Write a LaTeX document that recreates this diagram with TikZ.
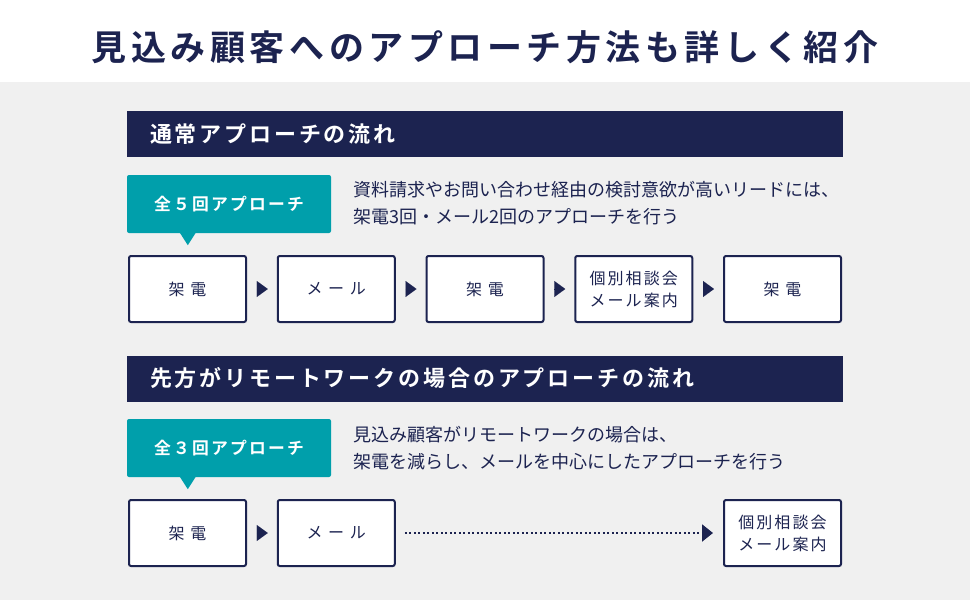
\documentclass[tikz,border=0pt]{standalone}
\usepackage{fontspec}
\setmainfont{Noto Sans CJK JP}[BoldFont={* Bold}]
\newfontfamily\jpspaced{Noto Sans CJK JP}[BoldFont={* Bold},LetterSpace=13]
\usepackage{tikz}
\usetikzlibrary{positioning,arrows.meta,calc}
\definecolor{Navy}{HTML}{1C2350}
\definecolor{Teal}{HTML}{009FAB}
\definecolor{Panel}{HTML}{F0F0F0}
\tikzset{
    titletext/.style={
        text=Navy,
        font=\jpspaced\bfseries\fontsize{35}{40}\selectfont
    },
    headbar/.style={
        rectangle,
        fill=Navy,
        text=white,
        inner xsep=23pt,
        inner ysep=0pt,
        text width=670pt,
        minimum height=46pt,
        align=left,
        font=\jpspaced\bfseries\fontsize{22}{26}\selectfont
    },
    badge/.style={
        rectangle,
        fill=Teal,
        text=white,
        rounded corners=2pt,
        minimum width=204pt,
        minimum height=58pt,
        align=center,
        font=\jpspaced\bfseries\fontsize{16.8}{20}\selectfont
    },
    desctext/.style={
        text=Navy,
        align=left,
        inner sep=0pt,
        font=\fontsize{18}{27}\selectfont
    },
    stepbox/.style={
        rectangle,
        draw=Navy,
        fill=white,
        line width=2pt,
        rounded corners=2pt,
        minimum width=117pt,
        minimum height=66pt,
        align=center,
        text=Navy,
        font=\jpspaced\fontsize{16}{22}\selectfont
    },
    steparrow/.style={
        -{Triangle[length=11pt,width=16pt]},
        draw=Navy,
        fill=Navy,
        line width=0.1pt,
        shorten <=10pt,
        shorten >=9pt
    },
    skiparrow/.style={
        -{Triangle[length=11pt,width=17pt]},
        draw=Navy,
        line width=2pt,
        dash pattern=on 2pt off 2.5pt,
        shorten <=9pt,
        shorten >=10pt
    }
}
\begin{document}
\begin{tikzpicture}[
                    x=1pt, y=-1pt,
                    node distance=29.75pt
                ]
                    \useasboundingbox (0,0) rectangle (970,600);
                    \fill[white] (0,0) rectangle (970,82);
                    \fill[Panel] (0,82) rectangle (970,600);

                    \node[titletext] (title) at (485,47) {見込み顧客へのアプローチ方法も詳しく紹介};

                    % normal approach
                    \node[headbar] (headA) at (485,134) {通常アプローチの流れ};
                    \node[badge] (badgeA) at (229,204) {全５回アプローチ};
                    \coordinate (tailA) at ($(badgeA.south west)+(61,12)$);
                    \fill[Teal] (tailA) -- ++(-8,-12.5) -- ++(16,0) -- cycle;
                    \node[desctext, anchor=west] (descA) at (353,203.5) {
                        資料請求やお問い合わせ経由の検討意欲が高いリードには、\\
                        架電3回・メール2回のアプローチを行う
                    };

                    \node[stepbox] (rowAa) at (187.5,289) {架 電};
                    \node[stepbox, right=of rowAa] (rowAb) {メ ー ル};
                    \node[stepbox, right=of rowAb] (rowAc) {架 電};
                    \node[stepbox, right=of rowAc] (rowAd) {個別相談会\\メール案内};
                    \node[stepbox, right=of rowAd] (rowAe) {架 電};

                    \draw[steparrow] (rowAa) -- (rowAb);
                    \draw[steparrow] (rowAb) -- (rowAc);
                    \draw[steparrow] (rowAc) -- (rowAd);
                    \draw[steparrow] (rowAd) -- (rowAe);

                    % remote work approach
                    \node[headbar] (headB) at (485,378.5) {先方がリモートワークの場合のアプローチの流れ};
                    \node[badge] (badgeB) at (229,448) {全３回アプローチ};
                    \coordinate (tailB) at ($(badgeB.south west)+(61,12)$);
                    \fill[Teal] (tailB) -- ++(-8,-12.5) -- ++(16,0) -- cycle;
                    \node[desctext, anchor=west] (descB) at (353,448.5) {
                        見込み顧客がリモートワークの場合は、\\
                        架電を減らし、メールを中心にしたアプローチを行う
                    };

                    \node[stepbox] (rowBa) at (187.5,533) {架 電};
                    \node[stepbox, right=of rowBa] (rowBb) {メ ー ル};
                    \node[stepbox] (rowBc) at (rowAe |- rowBa) {個別相談会\\メール案内};

                    \draw[steparrow] (rowBa) -- (rowBb);
                    \draw[skiparrow] (rowBb) -- (rowBc);
                \end{tikzpicture}
\end{document}
